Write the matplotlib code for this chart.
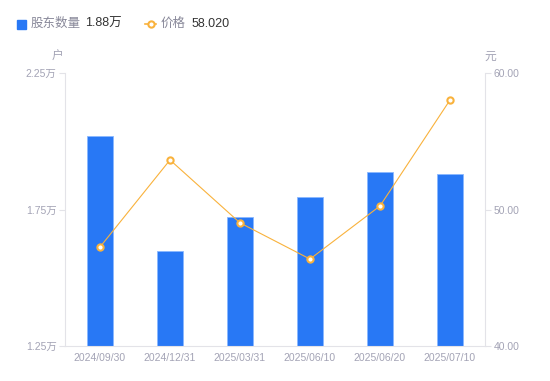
import matplotlib.pyplot as plt
import numpy as np

plt.rcParams['font.family'] = ['Liberation Sans', 'Noto Sans CJK SC', 'DejaVu Sans']

fechas = ['2024/09/30', '2024/12/31', '2025/03/31', '2025/06/10', '2025/06/20', '2025/07/10']
accionistas = [2.02, 1.598, 1.723, 1.797, 1.888, 1.880]  # 万户
precio = [47.25, 53.63, 49.02, 46.37, 50.26, 58.02]      # 元

azul = '#2878f5'
naranja = '#f9b23c'
gris = '#a3a3b5'
linea = '#e3e3e8'

fig = plt.figure(figsize=(5.5, 3.81), dpi=100)
ax = fig.add_axes([65 / 550, 35 / 381, 420 / 550, 273 / 381])
ax2 = ax.twinx()

x = np.arange(len(fechas))
ax.bar(x, [v - 1.25 for v in accionistas], bottom=1.25, width=0.36,
       color=azul, edgecolor='#8ab8ff', linewidth=0.6, zorder=2)
ax.set_ylim(1.25, 2.25)
ax.set_xlim(-0.5, len(fechas) - 0.5)
ax.set_yticks([1.25, 1.75, 2.25])
ax.set_yticklabels(['1.25万', '1.75万', '2.25万'])
ax.set_xticks(x)
ax.set_xticklabels(fechas)

ax2.plot(x, precio, color=naranja, linewidth=0.8, marker='o', markersize=4.5,
         markerfacecolor='white', markeredgecolor=naranja, markeredgewidth=1.5, zorder=3)
ax2.set_ylim(40, 60)
ax2.set_yticks([40, 50, 60])
ax2.set_yticklabels(['40.00', '50.00', '60.00'])

for a in (ax, ax2):
    for s in a.spines.values():
        s.set_visible(False)
    a.tick_params(axis='both', colors=linea, labelcolor=gris, labelsize=7.5, length=4, width=0.8, pad=2)
ax.tick_params(axis='x', length=0, pad=5)
ax.spines['left'].set_visible(True)
ax.spines['left'].set_color(linea)
ax.spines['bottom'].set_visible(True)
ax.spines['bottom'].set_color(linea)
ax2.spines['right'].set_visible(True)
ax2.spines['right'].set_color(linea)

fig.text(57 / 550, 1 - 57 / 381, '户', color=gris, fontsize=8.5, ha='center', va='center')
fig.text(490 / 550, 1 - 57 / 381, '元', color=gris, fontsize=8.5, ha='center', va='center')

# leyenda
fig.patches.append(plt.Rectangle((17 / 550, 1 - 28.5 / 381), 9 / 550, 9 / 381,
                                 transform=fig.transFigure, color=azul))
fig.text(31 / 550, 1 - 24 / 381, '股东数量', color='#888899', fontsize=9, va='center')
fig.text(85 / 550, 1 - 24 / 381, '1.88万', color='#333333', fontsize=9, va='center')
fig.add_artist(plt.Line2D([145 / 550, 156 / 550], [1 - 24 / 381, 1 - 24 / 381],
                          transform=fig.transFigure, color=naranja, linewidth=1.2))
fig.add_artist(plt.Line2D([150.5 / 550], [1 - 24 / 381], transform=fig.transFigure,
                          marker='o', markersize=4.5, markerfacecolor='white',
                          markeredgecolor=naranja, markeredgewidth=1.5))
fig.text(161 / 550, 1 - 24 / 381, '价格', color='#888899', fontsize=9, va='center')
fig.text(192 / 550, 1 - 24 / 381, '58.020', color='#333333', fontsize=9, va='center')

fig.savefig('out.png', dpi=100)
